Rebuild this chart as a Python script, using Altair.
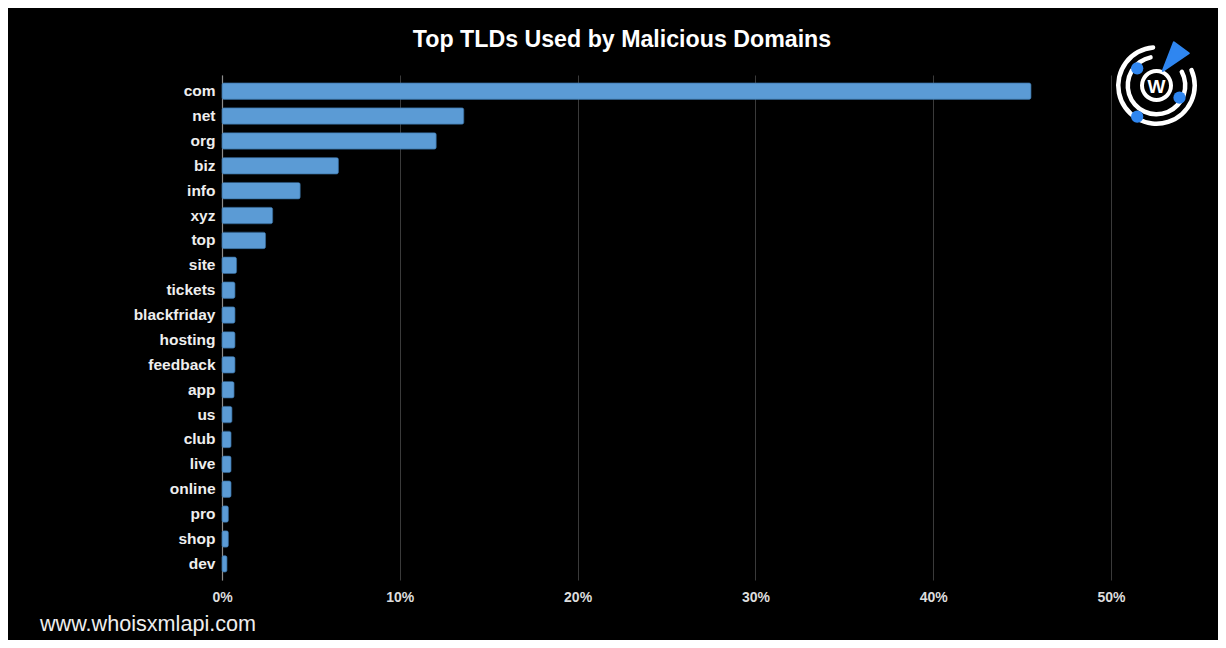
import altair as alt
import pandas as pd

# ---- data ----
tlds = ["com", "net", "org", "biz", "info", "xyz", "top", "site", "tickets",
        "blackfriday", "hosting", "feedback", "app", "us", "club", "live",
        "online", "pro", "shop", "dev"]
shares = [45.5, 13.6, 12.05, 6.55, 4.4, 2.85, 2.45, 0.82, 0.73,
          0.73, 0.73, 0.73, 0.68, 0.56, 0.51, 0.51,
          0.51, 0.36, 0.36, 0.28]
x_ticks = [0, 10, 20, 30, 40, 50]
title_text = ["Top TLDs Used by Malicious Domains"]
source_text = ["www.whoisxmlapi.com"]
logo_letter = ["W"]

FONT = "Liberation Sans"
BAR = "#5b9bd5"
BLUE = "#2f86f0"

df = pd.DataFrame({"tld": tlds, "share": shares})

bars = alt.Chart(df).mark_bar(color=BAR, cornerRadius=2, stroke="#3f78ad", strokeWidth=0.6).encode(
    y=alt.Y("tld:N", sort=tlds,
            scale=alt.Scale(paddingInner=0.34, paddingOuter=0.32),
            axis=alt.Axis(title=None, labelFont=FONT, labelFontSize=15.5,
                          labelFontWeight="bold", labelColor="#eeeeee",
                          labelPadding=7, ticks=False, domain=True,
                          domainColor="#8c8c8c", domainWidth=1.2, grid=False)),
    x=alt.X("share:Q", scale=alt.Scale(domain=[0, 50], nice=False),
            axis=alt.Axis(title=None, values=x_ticks,
                          labelExpr="datum.value + '%'", labelFlush=False,
                          labelFont=FONT, labelFontSize=14, labelFontWeight="bold",
                          labelColor="#dddddd", labelPadding=10,
                          ticks=False, domain=False, grid=True,
                          gridColor="#3a3a3a", gridWidth=1)),
)

title = alt.Chart(pd.DataFrame({"t": title_text})).mark_text(
    font=FONT, fontSize=23.2, fontWeight="bold", color="white", align="center",
    baseline="alphabetic").encode(text="t:N", x=alt.value(400), y=alt.value(-28))

source = alt.Chart(pd.DataFrame({"t": source_text})).mark_text(
    font=FONT, fontSize=21.6, color="#eeeeee", align="left", baseline="alphabetic"
).encode(text="t:N", x=alt.value(-182), y=alt.value(556))

# ---- logo (decoration) ----
one = pd.DataFrame({"a": [0]})
CX, CY = 934.5, 10.5

def ring(r_out, r_in, t0, t1, color="white"):
    return alt.Chart(one).mark_arc(theta=t0, theta2=t1, radius=r_out, radius2=r_in,
                                   color=color, cornerRadius=2).encode(
        x=alt.value(CX), y=alt.value(CY))

outer = ring(40.5, 36, 1.1, 6.25)
middle = ring(31, 26.5, 1.0, 6.15)
inner = ring(16.5, 12.5, 0, 6.2832)

def dot(dx, dy):
    return alt.Chart(one).mark_circle(color=BLUE, opacity=1, size=150).encode(
        x=alt.value(CX + dx), y=alt.value(CY + dy))

dots = [dot(-19.3, -17.2), dot(23, 12.2), dot(-19.3, 31.2)]

tri = alt.Chart(one).mark_point(
    shape="M -0.09 -0.94 L 0.98 -0.16 L -0.88 1.1 Z", filled=True, color=BLUE,
    opacity=1, size=784, stroke=BLUE, strokeWidth=2, strokeJoin="round").encode(
    x=alt.value(CX + 18.6), y=alt.value(CY - 30))

letter = alt.Chart(pd.DataFrame({"t": logo_letter})).mark_text(
    font=FONT, fontSize=19, fontWeight="bold", color="white", align="center",
    baseline="middle").encode(text="t:N", x=alt.value(CX), y=alt.value(CY + 1))

chart = alt.layer(bars, title, source, outer, middle, inner, *dots, tri, letter).properties(
    width=889, height=505,
    background="black",
    padding={"left": 214, "top": 67, "right": 107, "bottom": 60},
    autosize=alt.AutoSizeParams(type="none"),
).configure_view(stroke=None)

chart.save("out.html", embed_options={"renderer": "svg", "actions": False})
